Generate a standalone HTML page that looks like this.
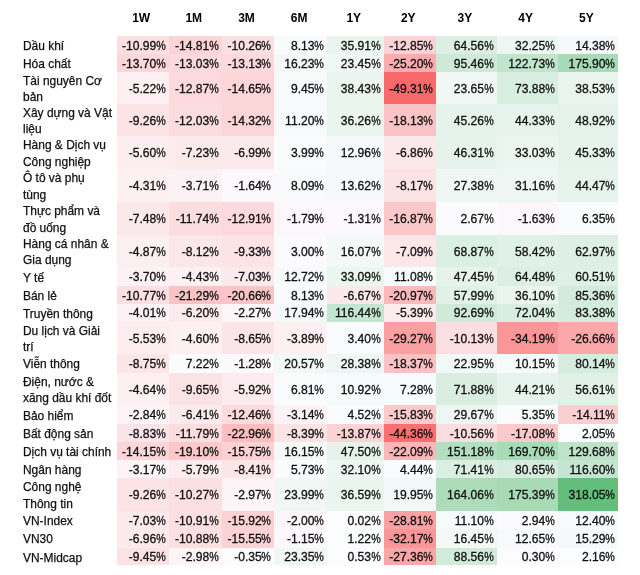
<!DOCTYPE html>
<html lang="vi"><head><meta charset="utf-8"><title>Heatmap</title>
<style>
html,body{margin:0;padding:0;background:#fff;}
body{width:640px;height:575px;position:relative;overflow:hidden;font-family:"Liberation Sans",Arial,sans-serif;color:#111;}
.h{position:absolute;top:8.7px;height:18px;line-height:18px;font-weight:bold;font-size:12px;text-align:center;color:#000;margin-left:-1.5px;}
.c{position:absolute;box-sizing:border-box;text-align:right;font-size:12.1px;white-space:nowrap;-webkit-text-stroke:0.3px #111;}
.c span{position:relative;top:1px;}
.c i{font-style:normal;display:inline-block;transform:scaleX(.885);transform-origin:100% 50%;margin-left:-1.25px;}
.l{position:absolute;left:23px;margin-top:1.2px;font-size:11.95px;line-height:16.3px;-webkit-text-stroke:0.25px #111;white-space:nowrap;display:flex;flex-direction:column;justify-content:center;}
</style></head><body>
<div class="h" style="left:116.5px;width:52.25px">1W</div>
<div class="h" style="left:168.75px;width:53.00px">1M</div>
<div class="h" style="left:221.75px;width:52.50px">3M</div>
<div class="h" style="left:274.25px;width:52.75px">6M</div>
<div class="h" style="left:327px;width:56.50px">1Y</div>
<div class="h" style="left:383.5px;width:52.50px">2Y</div>
<div class="h" style="left:436px;width:60.60px">3Y</div>
<div class="h" style="left:496.6px;width:61.20px">4Y</div>
<div class="h" style="left:557.8px;width:60.30px">5Y</div>
<div class="l" style="top:35.5px;height:18.25px"><span>Dầu khí</span></div>
<div class="c" style="left:116.5px;top:35.5px;width:53.25px;height:19.25px;line-height:18.25px;padding-right:4.0px;background:rgb(251, 223, 225)"><span>-10.99<i>%</i></span></div><div class="c" style="left:168.75px;top:35.5px;width:54.00px;height:19.25px;line-height:18.25px;padding-right:4.0px;background:rgb(251, 212, 215)"><span>-14.81<i>%</i></span></div><div class="c" style="left:221.75px;top:35.5px;width:53.50px;height:19.25px;line-height:18.25px;padding-right:4.0px;background:rgb(251, 224, 227)"><span>-10.26<i>%</i></span></div><div class="c" style="left:274.25px;top:35.5px;width:53.75px;height:19.25px;line-height:18.25px;padding-right:4.0px;background:rgb(248, 250, 252)"><span>8.13<i>%</i></span></div><div class="c" style="left:327px;top:35.5px;width:57.50px;height:19.25px;line-height:18.25px;padding-right:4.0px;background:rgb(235, 245, 240)"><span>35.91<i>%</i></span></div><div class="c" style="left:383.5px;top:35.5px;width:53.50px;height:19.25px;line-height:18.25px;padding-right:4.0px;background:rgb(251, 211, 214)"><span>-12.85<i>%</i></span></div><div class="c" style="left:436px;top:35.5px;width:61.60px;height:19.25px;line-height:18.25px;padding-right:4.0px;background:rgb(221, 239, 228)"><span>64.56<i>%</i></span></div><div class="c" style="left:496.6px;top:35.5px;width:62.20px;height:19.25px;line-height:18.25px;padding-right:4.0px;background:rgb(236, 246, 242)"><span>32.25<i>%</i></span></div><div class="c" style="left:557.8px;top:35.5px;width:60.30px;height:19.25px;line-height:18.25px;padding-right:3.0px;background:rgb(245, 249, 249)"><span>14.38<i>%</i></span></div>
<div class="l" style="top:53.75px;height:18.00px"><span>Hóa chất</span></div>
<div class="c" style="left:116.5px;top:53.75px;width:53.25px;height:19.00px;line-height:18.00px;padding-right:4.0px;background:rgb(251, 215, 218)"><span>-13.70<i>%</i></span></div><div class="c" style="left:168.75px;top:53.75px;width:54.00px;height:19.00px;line-height:18.00px;padding-right:4.0px;background:rgb(251, 217, 220)"><span>-13.03<i>%</i></span></div><div class="c" style="left:221.75px;top:53.75px;width:53.50px;height:19.00px;line-height:18.00px;padding-right:4.0px;background:rgb(251, 217, 220)"><span>-13.13<i>%</i></span></div><div class="c" style="left:274.25px;top:53.75px;width:53.75px;height:19.00px;line-height:18.00px;padding-right:4.0px;background:rgb(244, 249, 248)"><span>16.23<i>%</i></span></div><div class="c" style="left:327px;top:53.75px;width:57.50px;height:19.00px;line-height:18.00px;padding-right:4.0px;background:rgb(241, 247, 245)"><span>23.45<i>%</i></span></div><div class="c" style="left:383.5px;top:53.75px;width:53.50px;height:19.00px;line-height:18.00px;padding-right:4.0px;background:rgb(250, 172, 175)"><span>-25.20<i>%</i></span></div><div class="c" style="left:436px;top:53.75px;width:61.60px;height:19.00px;line-height:18.00px;padding-right:4.0px;background:rgb(206, 233, 215)"><span>95.46<i>%</i></span></div><div class="c" style="left:496.6px;top:53.75px;width:62.20px;height:19.00px;line-height:18.00px;padding-right:4.0px;background:rgb(193, 228, 204)"><span>122.73<i>%</i></span></div><div class="c" style="left:557.8px;top:53.75px;width:60.30px;height:19.00px;line-height:18.00px;padding-right:3.0px;background:rgb(167, 218, 182)"><span>175.90<i>%</i></span></div>
<div class="l" style="top:71.75px;height:32.50px"><span>Tài nguyên Cơ</span><span>bản</span></div>
<div class="c" style="left:116.5px;top:71.75px;width:53.25px;height:33.50px;line-height:32.50px;padding-right:4.0px;background:rgb(252, 238, 241)"><span>-5.22<i>%</i></span></div><div class="c" style="left:168.75px;top:71.75px;width:54.00px;height:33.50px;line-height:32.50px;padding-right:4.0px;background:rgb(251, 217, 220)"><span>-12.87<i>%</i></span></div><div class="c" style="left:221.75px;top:71.75px;width:53.50px;height:33.50px;line-height:32.50px;padding-right:4.0px;background:rgb(251, 213, 215)"><span>-14.65<i>%</i></span></div><div class="c" style="left:274.25px;top:71.75px;width:53.75px;height:33.50px;line-height:32.50px;padding-right:4.0px;background:rgb(247, 250, 251)"><span>9.45<i>%</i></span></div><div class="c" style="left:327px;top:71.75px;width:57.50px;height:33.50px;line-height:32.50px;padding-right:4.0px;background:rgb(234, 245, 239)"><span>38.43<i>%</i></span></div><div class="c" style="left:383.5px;top:71.75px;width:53.50px;height:33.50px;line-height:32.50px;padding-right:4.0px;background:rgb(248, 105, 107)"><span>-49.31<i>%</i></span></div><div class="c" style="left:436px;top:71.75px;width:61.60px;height:33.50px;line-height:32.50px;padding-right:4.0px;background:rgb(241, 247, 245)"><span>23.65<i>%</i></span></div><div class="c" style="left:496.6px;top:71.75px;width:62.20px;height:33.50px;line-height:32.50px;padding-right:4.0px;background:rgb(216, 238, 224)"><span>73.88<i>%</i></span></div><div class="c" style="left:557.8px;top:71.75px;width:60.30px;height:33.50px;line-height:32.50px;padding-right:3.0px;background:rgb(233, 244, 239)"><span>38.53<i>%</i></span></div>
<div class="l" style="top:104.25px;height:32.00px"><span>Xây dựng và Vật</span><span>liệu</span></div>
<div class="c" style="left:116.5px;top:104.25px;width:53.25px;height:33.00px;line-height:32.00px;padding-right:4.0px;background:rgb(251, 227, 230)"><span>-9.26<i>%</i></span></div><div class="c" style="left:168.75px;top:104.25px;width:54.00px;height:33.00px;line-height:32.00px;padding-right:4.0px;background:rgb(251, 220, 223)"><span>-12.03<i>%</i></span></div><div class="c" style="left:221.75px;top:104.25px;width:53.50px;height:33.00px;line-height:32.00px;padding-right:4.0px;background:rgb(251, 214, 216)"><span>-14.32<i>%</i></span></div><div class="c" style="left:274.25px;top:104.25px;width:53.75px;height:33.00px;line-height:32.00px;padding-right:4.0px;background:rgb(247, 250, 250)"><span>11.20<i>%</i></span></div><div class="c" style="left:327px;top:104.25px;width:57.50px;height:33.00px;line-height:32.00px;padding-right:4.0px;background:rgb(235, 245, 240)"><span>36.26<i>%</i></span></div><div class="c" style="left:383.5px;top:104.25px;width:53.50px;height:33.00px;line-height:32.00px;padding-right:4.0px;background:rgb(250, 195, 197)"><span>-18.13<i>%</i></span></div><div class="c" style="left:436px;top:104.25px;width:61.60px;height:33.00px;line-height:32.00px;padding-right:4.0px;background:rgb(230, 243, 236)"><span>45.26<i>%</i></span></div><div class="c" style="left:496.6px;top:104.25px;width:62.20px;height:33.00px;line-height:32.00px;padding-right:4.0px;background:rgb(231, 243, 237)"><span>44.33<i>%</i></span></div><div class="c" style="left:557.8px;top:104.25px;width:60.30px;height:33.00px;line-height:32.00px;padding-right:3.0px;background:rgb(228, 242, 235)"><span>48.92<i>%</i></span></div>
<div class="l" style="top:136.25px;height:32.50px"><span>Hàng &amp; Dịch vụ</span><span>Công nghiệp</span></div>
<div class="c" style="left:116.5px;top:136.25px;width:53.25px;height:33.50px;line-height:32.50px;padding-right:4.0px;background:rgb(252, 237, 240)"><span>-5.60<i>%</i></span></div><div class="c" style="left:168.75px;top:136.25px;width:54.00px;height:33.50px;line-height:32.50px;padding-right:4.0px;background:rgb(251, 233, 235)"><span>-7.23<i>%</i></span></div><div class="c" style="left:221.75px;top:136.25px;width:53.50px;height:33.50px;line-height:32.50px;padding-right:4.0px;background:rgb(251, 233, 236)"><span>-6.99<i>%</i></span></div><div class="c" style="left:274.25px;top:136.25px;width:53.75px;height:33.50px;line-height:32.50px;padding-right:4.0px;background:rgb(250, 251, 253)"><span>3.99<i>%</i></span></div><div class="c" style="left:327px;top:136.25px;width:57.50px;height:33.50px;line-height:32.50px;padding-right:4.0px;background:rgb(246, 249, 250)"><span>12.96<i>%</i></span></div><div class="c" style="left:383.5px;top:136.25px;width:53.50px;height:33.50px;line-height:32.50px;padding-right:4.0px;background:rgb(251, 230, 233)"><span>-6.86<i>%</i></span></div><div class="c" style="left:436px;top:136.25px;width:61.60px;height:33.50px;line-height:32.50px;padding-right:4.0px;background:rgb(230, 243, 236)"><span>46.31<i>%</i></span></div><div class="c" style="left:496.6px;top:136.25px;width:62.20px;height:33.50px;line-height:32.50px;padding-right:4.0px;background:rgb(236, 246, 241)"><span>33.03<i>%</i></span></div><div class="c" style="left:557.8px;top:136.25px;width:60.30px;height:33.50px;line-height:32.50px;padding-right:3.0px;background:rgb(230, 243, 236)"><span>45.33<i>%</i></span></div>
<div class="l" style="top:168.75px;height:33.25px"><span>Ô tô và phụ</span><span>tùng</span></div>
<div class="c" style="left:116.5px;top:168.75px;width:53.25px;height:34.25px;line-height:33.25px;padding-right:4.0px;background:rgb(252, 240, 243)"><span>-4.31<i>%</i></span></div><div class="c" style="left:168.75px;top:168.75px;width:54.00px;height:34.25px;line-height:33.25px;padding-right:4.0px;background:rgb(252, 242, 245)"><span>-3.71<i>%</i></span></div><div class="c" style="left:221.75px;top:168.75px;width:53.50px;height:34.25px;line-height:33.25px;padding-right:4.0px;background:rgb(252, 248, 251)"><span>-1.64<i>%</i></span></div><div class="c" style="left:274.25px;top:168.75px;width:53.75px;height:34.25px;line-height:33.25px;padding-right:4.0px;background:rgb(248, 250, 252)"><span>8.09<i>%</i></span></div><div class="c" style="left:327px;top:168.75px;width:57.50px;height:34.25px;line-height:33.25px;padding-right:4.0px;background:rgb(245, 249, 249)"><span>13.62<i>%</i></span></div><div class="c" style="left:383.5px;top:168.75px;width:53.50px;height:34.25px;line-height:33.25px;padding-right:4.0px;background:rgb(251, 226, 229)"><span>-8.17<i>%</i></span></div><div class="c" style="left:436px;top:168.75px;width:61.60px;height:34.25px;line-height:33.25px;padding-right:4.0px;background:rgb(239, 247, 244)"><span>27.38<i>%</i></span></div><div class="c" style="left:496.6px;top:168.75px;width:62.20px;height:34.25px;line-height:33.25px;padding-right:4.0px;background:rgb(237, 246, 242)"><span>31.16<i>%</i></span></div><div class="c" style="left:557.8px;top:168.75px;width:60.30px;height:34.25px;line-height:33.25px;padding-right:3.0px;background:rgb(231, 243, 237)"><span>44.47<i>%</i></span></div>
<div class="l" style="top:202px;height:32.80px"><span>Thực phẩm và</span><span>đồ uống</span></div>
<div class="c" style="left:116.5px;top:202px;width:53.25px;height:33.80px;line-height:32.80px;padding-right:4.0px;background:rgb(251, 232, 235)"><span>-7.48<i>%</i></span></div><div class="c" style="left:168.75px;top:202px;width:54.00px;height:33.80px;line-height:32.80px;padding-right:4.0px;background:rgb(251, 221, 223)"><span>-11.74<i>%</i></span></div><div class="c" style="left:221.75px;top:202px;width:53.50px;height:33.80px;line-height:32.80px;padding-right:4.0px;background:rgb(251, 217, 220)"><span>-12.91<i>%</i></span></div><div class="c" style="left:274.25px;top:202px;width:53.75px;height:33.80px;line-height:32.80px;padding-right:4.0px;background:rgb(252, 247, 250)"><span>-1.79<i>%</i></span></div><div class="c" style="left:327px;top:202px;width:57.50px;height:33.80px;line-height:32.80px;padding-right:4.0px;background:rgb(252, 248, 251)"><span>-1.31<i>%</i></span></div><div class="c" style="left:383.5px;top:202px;width:53.50px;height:33.80px;line-height:32.80px;padding-right:4.0px;background:rgb(251, 199, 201)"><span>-16.87<i>%</i></span></div><div class="c" style="left:436px;top:202px;width:61.60px;height:33.80px;line-height:32.80px;padding-right:4.0px;background:rgb(251, 251, 254)"><span>2.67<i>%</i></span></div><div class="c" style="left:496.6px;top:202px;width:62.20px;height:33.80px;line-height:32.80px;padding-right:4.0px;background:rgb(252, 247, 250)"><span>-1.63<i>%</i></span></div><div class="c" style="left:557.8px;top:202px;width:60.30px;height:33.80px;line-height:32.80px;padding-right:3.0px;background:rgb(249, 251, 252)"><span>6.35<i>%</i></span></div>
<div class="l" style="top:234.8px;height:32.60px"><span>Hàng cá nhân &amp;</span><span>Gia dụng</span></div>
<div class="c" style="left:116.5px;top:234.8px;width:53.25px;height:33.60px;line-height:32.60px;padding-right:4.0px;background:rgb(252, 239, 242)"><span>-4.87<i>%</i></span></div><div class="c" style="left:168.75px;top:234.8px;width:54.00px;height:33.60px;line-height:32.60px;padding-right:4.0px;background:rgb(251, 230, 233)"><span>-8.12<i>%</i></span></div><div class="c" style="left:221.75px;top:234.8px;width:53.50px;height:33.60px;line-height:32.60px;padding-right:4.0px;background:rgb(251, 227, 230)"><span>-9.33<i>%</i></span></div><div class="c" style="left:274.25px;top:234.8px;width:53.75px;height:33.60px;line-height:32.60px;padding-right:4.0px;background:rgb(251, 251, 254)"><span>3.00<i>%</i></span></div><div class="c" style="left:327px;top:234.8px;width:57.50px;height:33.60px;line-height:32.60px;padding-right:4.0px;background:rgb(244, 249, 248)"><span>16.07<i>%</i></span></div><div class="c" style="left:383.5px;top:234.8px;width:53.50px;height:33.60px;line-height:32.60px;padding-right:4.0px;background:rgb(251, 230, 232)"><span>-7.09<i>%</i></span></div><div class="c" style="left:436px;top:234.8px;width:61.60px;height:33.60px;line-height:32.60px;padding-right:4.0px;background:rgb(219, 239, 226)"><span>68.87<i>%</i></span></div><div class="c" style="left:496.6px;top:234.8px;width:62.20px;height:33.60px;line-height:32.60px;padding-right:4.0px;background:rgb(224, 241, 231)"><span>58.42<i>%</i></span></div><div class="c" style="left:557.8px;top:234.8px;width:60.30px;height:33.60px;line-height:32.60px;padding-right:3.0px;background:rgb(222, 240, 229)"><span>62.97<i>%</i></span></div>
<div class="l" style="top:267.4px;height:18.35px"><span>Y tế</span></div>
<div class="c" style="left:116.5px;top:267.4px;width:53.25px;height:19.35px;line-height:18.35px;padding-right:4.0px;background:rgb(252, 242, 245)"><span>-3.70<i>%</i></span></div><div class="c" style="left:168.75px;top:267.4px;width:54.00px;height:19.35px;line-height:18.35px;padding-right:4.0px;background:rgb(252, 240, 243)"><span>-4.43<i>%</i></span></div><div class="c" style="left:221.75px;top:267.4px;width:53.50px;height:19.35px;line-height:18.35px;padding-right:4.0px;background:rgb(251, 233, 236)"><span>-7.03<i>%</i></span></div><div class="c" style="left:274.25px;top:267.4px;width:53.75px;height:19.35px;line-height:18.35px;padding-right:4.0px;background:rgb(246, 250, 250)"><span>12.72<i>%</i></span></div><div class="c" style="left:327px;top:267.4px;width:57.50px;height:19.35px;line-height:18.35px;padding-right:4.0px;background:rgb(236, 246, 241)"><span>33.09<i>%</i></span></div><div class="c" style="left:383.5px;top:267.4px;width:53.50px;height:19.35px;line-height:18.35px;padding-right:4.0px;background:rgb(247, 250, 250)"><span>11.08<i>%</i></span></div><div class="c" style="left:436px;top:267.4px;width:61.60px;height:19.35px;line-height:18.35px;padding-right:4.0px;background:rgb(229, 243, 235)"><span>47.45<i>%</i></span></div><div class="c" style="left:496.6px;top:267.4px;width:62.20px;height:19.35px;line-height:18.35px;padding-right:4.0px;background:rgb(221, 239, 228)"><span>64.48<i>%</i></span></div><div class="c" style="left:557.8px;top:267.4px;width:60.30px;height:19.35px;line-height:18.35px;padding-right:3.0px;background:rgb(223, 240, 230)"><span>60.51<i>%</i></span></div>
<div class="l" style="top:285.75px;height:18.50px"><span>Bán lẻ</span></div>
<div class="c" style="left:116.5px;top:285.75px;width:53.25px;height:19.50px;line-height:18.50px;padding-right:4.0px;background:rgb(251, 223, 226)"><span>-10.77<i>%</i></span></div><div class="c" style="left:168.75px;top:285.75px;width:54.00px;height:19.50px;line-height:18.50px;padding-right:4.0px;background:rgb(250, 195, 197)"><span>-21.29<i>%</i></span></div><div class="c" style="left:221.75px;top:285.75px;width:53.50px;height:19.50px;line-height:18.50px;padding-right:4.0px;background:rgb(250, 197, 199)"><span>-20.66<i>%</i></span></div><div class="c" style="left:274.25px;top:285.75px;width:53.75px;height:19.50px;line-height:18.50px;padding-right:4.0px;background:rgb(248, 250, 252)"><span>8.13<i>%</i></span></div><div class="c" style="left:327px;top:285.75px;width:57.50px;height:19.50px;line-height:18.50px;padding-right:4.0px;background:rgb(251, 232, 235)"><span>-6.67<i>%</i></span></div><div class="c" style="left:383.5px;top:285.75px;width:53.50px;height:19.50px;line-height:18.50px;padding-right:4.0px;background:rgb(250, 186, 188)"><span>-20.97<i>%</i></span></div><div class="c" style="left:436px;top:285.75px;width:61.60px;height:19.50px;line-height:18.50px;padding-right:4.0px;background:rgb(224, 241, 231)"><span>57.99<i>%</i></span></div><div class="c" style="left:496.6px;top:285.75px;width:62.20px;height:19.50px;line-height:18.50px;padding-right:4.0px;background:rgb(235, 245, 240)"><span>36.10<i>%</i></span></div><div class="c" style="left:557.8px;top:285.75px;width:60.30px;height:19.50px;line-height:18.50px;padding-right:3.0px;background:rgb(211, 235, 220)"><span>85.36<i>%</i></span></div>
<div class="l" style="top:304.25px;height:17.55px"><span>Truyền thông</span></div>
<div class="c" style="left:116.5px;top:304.25px;width:53.25px;height:18.55px;line-height:17.55px;padding-right:4.0px;background:rgb(252, 241, 244)"><span>-4.01<i>%</i></span></div><div class="c" style="left:168.75px;top:304.25px;width:54.00px;height:18.55px;line-height:17.55px;padding-right:4.0px;background:rgb(252, 235, 238)"><span>-6.20<i>%</i></span></div><div class="c" style="left:221.75px;top:304.25px;width:53.50px;height:18.55px;line-height:17.55px;padding-right:4.0px;background:rgb(252, 246, 249)"><span>-2.27<i>%</i></span></div><div class="c" style="left:274.25px;top:304.25px;width:53.75px;height:18.55px;line-height:17.55px;padding-right:4.0px;background:rgb(243, 249, 248)"><span>17.94<i>%</i></span></div><div class="c" style="left:327px;top:304.25px;width:57.50px;height:18.55px;line-height:17.55px;padding-right:4.0px;background:rgb(196, 229, 207)"><span>116.44<i>%</i></span></div><div class="c" style="left:383.5px;top:304.25px;width:53.50px;height:18.55px;line-height:17.55px;padding-right:4.0px;background:rgb(252, 235, 238)"><span>-5.39<i>%</i></span></div><div class="c" style="left:436px;top:304.25px;width:61.60px;height:18.55px;line-height:17.55px;padding-right:4.0px;background:rgb(207, 234, 217)"><span>92.69<i>%</i></span></div><div class="c" style="left:496.6px;top:304.25px;width:62.20px;height:18.55px;line-height:17.55px;padding-right:4.0px;background:rgb(217, 238, 225)"><span>72.04<i>%</i></span></div><div class="c" style="left:557.8px;top:304.25px;width:60.30px;height:18.55px;line-height:17.55px;padding-right:3.0px;background:rgb(212, 236, 220)"><span>83.38<i>%</i></span></div>
<div class="l" style="top:321.8px;height:32.60px"><span>Du lịch và Giải</span><span>trí</span></div>
<div class="c" style="left:116.5px;top:321.8px;width:53.25px;height:33.60px;line-height:32.60px;padding-right:4.0px;background:rgb(252, 237, 240)"><span>-5.53<i>%</i></span></div><div class="c" style="left:168.75px;top:321.8px;width:54.00px;height:33.60px;line-height:32.60px;padding-right:4.0px;background:rgb(252, 240, 243)"><span>-4.60<i>%</i></span></div><div class="c" style="left:221.75px;top:321.8px;width:53.50px;height:33.60px;line-height:32.60px;padding-right:4.0px;background:rgb(251, 229, 232)"><span>-8.65<i>%</i></span></div><div class="c" style="left:274.25px;top:321.8px;width:53.75px;height:33.60px;line-height:32.60px;padding-right:4.0px;background:rgb(252, 240, 243)"><span>-3.89<i>%</i></span></div><div class="c" style="left:327px;top:321.8px;width:57.50px;height:33.60px;line-height:32.60px;padding-right:4.0px;background:rgb(250, 251, 254)"><span>3.40<i>%</i></span></div><div class="c" style="left:383.5px;top:321.8px;width:53.50px;height:33.60px;line-height:32.60px;padding-right:4.0px;background:rgb(249, 160, 162)"><span>-29.27<i>%</i></span></div><div class="c" style="left:436px;top:321.8px;width:61.60px;height:33.60px;line-height:32.60px;padding-right:4.0px;background:rgb(251, 222, 225)"><span>-10.13<i>%</i></span></div><div class="c" style="left:496.6px;top:321.8px;width:62.20px;height:33.60px;line-height:32.60px;padding-right:4.0px;background:rgb(249, 150, 152)"><span>-34.19<i>%</i></span></div><div class="c" style="left:557.8px;top:321.8px;width:60.30px;height:33.60px;line-height:32.60px;padding-right:3.0px;background:rgb(250, 168, 170)"><span>-26.66<i>%</i></span></div>
<div class="l" style="top:354.4px;height:18.10px"><span>Viễn thông</span></div>
<div class="c" style="left:116.5px;top:354.4px;width:53.25px;height:19.10px;line-height:18.10px;padding-right:4.0px;background:rgb(251, 229, 231)"><span>-8.75<i>%</i></span></div><div class="c" style="left:168.75px;top:354.4px;width:54.00px;height:19.10px;line-height:18.10px;padding-right:4.0px;background:rgb(249, 251, 252)"><span>7.22<i>%</i></span></div><div class="c" style="left:221.75px;top:354.4px;width:53.50px;height:19.10px;line-height:18.10px;padding-right:4.0px;background:rgb(252, 249, 252)"><span>-1.28<i>%</i></span></div><div class="c" style="left:274.25px;top:354.4px;width:53.75px;height:19.10px;line-height:18.10px;padding-right:4.0px;background:rgb(242, 248, 246)"><span>20.57<i>%</i></span></div><div class="c" style="left:327px;top:354.4px;width:57.50px;height:19.10px;line-height:18.10px;padding-right:4.0px;background:rgb(238, 246, 243)"><span>28.38<i>%</i></span></div><div class="c" style="left:383.5px;top:354.4px;width:53.50px;height:19.10px;line-height:18.10px;padding-right:4.0px;background:rgb(250, 194, 197)"><span>-18.37<i>%</i></span></div><div class="c" style="left:436px;top:354.4px;width:61.60px;height:19.10px;line-height:18.10px;padding-right:4.0px;background:rgb(241, 248, 245)"><span>22.95<i>%</i></span></div><div class="c" style="left:496.6px;top:354.4px;width:62.20px;height:19.10px;line-height:18.10px;padding-right:4.0px;background:rgb(247, 250, 251)"><span>10.15<i>%</i></span></div><div class="c" style="left:557.8px;top:354.4px;width:60.30px;height:19.10px;line-height:18.10px;padding-right:3.0px;background:rgb(213, 236, 222)"><span>80.14<i>%</i></span></div>
<div class="l" style="top:372.5px;height:32.90px"><span>Điện, nước &amp;</span><span>xăng dầu khí đốt</span></div>
<div class="c" style="left:116.5px;top:372.5px;width:53.25px;height:33.90px;line-height:32.90px;padding-right:4.0px;background:rgb(252, 240, 242)"><span>-4.64<i>%</i></span></div><div class="c" style="left:168.75px;top:372.5px;width:54.00px;height:33.90px;line-height:32.90px;padding-right:4.0px;background:rgb(251, 226, 229)"><span>-9.65<i>%</i></span></div><div class="c" style="left:221.75px;top:372.5px;width:53.50px;height:33.90px;line-height:32.90px;padding-right:4.0px;background:rgb(252, 236, 239)"><span>-5.92<i>%</i></span></div><div class="c" style="left:274.25px;top:372.5px;width:53.75px;height:33.90px;line-height:32.90px;padding-right:4.0px;background:rgb(249, 251, 252)"><span>6.81<i>%</i></span></div><div class="c" style="left:327px;top:372.5px;width:57.50px;height:33.90px;line-height:32.90px;padding-right:4.0px;background:rgb(247, 250, 250)"><span>10.92<i>%</i></span></div><div class="c" style="left:383.5px;top:372.5px;width:53.50px;height:33.90px;line-height:32.90px;padding-right:4.0px;background:rgb(248, 251, 252)"><span>7.28<i>%</i></span></div><div class="c" style="left:436px;top:372.5px;width:61.60px;height:33.90px;line-height:32.90px;padding-right:4.0px;background:rgb(217, 238, 225)"><span>71.88<i>%</i></span></div><div class="c" style="left:496.6px;top:372.5px;width:62.20px;height:33.90px;line-height:32.90px;padding-right:4.0px;background:rgb(231, 243, 237)"><span>44.21<i>%</i></span></div><div class="c" style="left:557.8px;top:372.5px;width:60.30px;height:33.90px;line-height:32.90px;padding-right:3.0px;background:rgb(225, 241, 232)"><span>56.61<i>%</i></span></div>
<div class="l" style="top:405.4px;height:18.20px"><span>Bảo hiểm</span></div>
<div class="c" style="left:116.5px;top:405.4px;width:53.25px;height:19.20px;line-height:18.20px;padding-right:4.0px;background:rgb(252, 244, 247)"><span>-2.84<i>%</i></span></div><div class="c" style="left:168.75px;top:405.4px;width:54.00px;height:19.20px;line-height:18.20px;padding-right:4.0px;background:rgb(252, 235, 238)"><span>-6.41<i>%</i></span></div><div class="c" style="left:221.75px;top:405.4px;width:53.50px;height:19.20px;line-height:18.20px;padding-right:4.0px;background:rgb(251, 219, 221)"><span>-12.46<i>%</i></span></div><div class="c" style="left:274.25px;top:405.4px;width:53.75px;height:19.20px;line-height:18.20px;padding-right:4.0px;background:rgb(252, 243, 246)"><span>-3.14<i>%</i></span></div><div class="c" style="left:327px;top:405.4px;width:57.50px;height:19.20px;line-height:18.20px;padding-right:4.0px;background:rgb(250, 251, 253)"><span>4.52<i>%</i></span></div><div class="c" style="left:383.5px;top:405.4px;width:53.50px;height:19.20px;line-height:18.20px;padding-right:4.0px;background:rgb(251, 202, 205)"><span>-15.83<i>%</i></span></div><div class="c" style="left:436px;top:405.4px;width:61.60px;height:19.20px;line-height:18.20px;padding-right:4.0px;background:rgb(238, 246, 243)"><span>29.67<i>%</i></span></div><div class="c" style="left:496.6px;top:405.4px;width:62.20px;height:19.20px;line-height:18.20px;padding-right:4.0px;background:rgb(249, 251, 253)"><span>5.35<i>%</i></span></div><div class="c" style="left:557.8px;top:405.4px;width:60.30px;height:19.20px;line-height:18.20px;padding-right:3.0px;background:rgb(251, 207, 210)"><span>-14.11<i>%</i></span></div>
<div class="l" style="top:423.6px;height:18.40px"><span>Bất động sản</span></div>
<div class="c" style="left:116.5px;top:423.6px;width:53.25px;height:19.40px;line-height:18.40px;padding-right:4.0px;background:rgb(251, 228, 231)"><span>-8.83<i>%</i></span></div><div class="c" style="left:168.75px;top:423.6px;width:54.00px;height:19.40px;line-height:18.40px;padding-right:4.0px;background:rgb(251, 220, 223)"><span>-11.79<i>%</i></span></div><div class="c" style="left:221.75px;top:423.6px;width:53.50px;height:19.40px;line-height:18.40px;padding-right:4.0px;background:rgb(250, 190, 193)"><span>-22.96<i>%</i></span></div><div class="c" style="left:274.25px;top:423.6px;width:53.75px;height:19.40px;line-height:18.40px;padding-right:4.0px;background:rgb(251, 227, 230)"><span>-8.39<i>%</i></span></div><div class="c" style="left:327px;top:423.6px;width:57.50px;height:19.40px;line-height:18.40px;padding-right:4.0px;background:rgb(251, 211, 213)"><span>-13.87<i>%</i></span></div><div class="c" style="left:383.5px;top:423.6px;width:53.50px;height:19.40px;line-height:18.40px;padding-right:4.0px;background:rgb(248, 112, 114)"><span>-44.36<i>%</i></span></div><div class="c" style="left:436px;top:423.6px;width:61.60px;height:19.40px;line-height:18.40px;padding-right:4.0px;background:rgb(251, 221, 223)"><span>-10.56<i>%</i></span></div><div class="c" style="left:496.6px;top:423.6px;width:62.20px;height:19.40px;line-height:18.40px;padding-right:4.0px;background:rgb(251, 201, 204)"><span>-17.08<i>%</i></span></div><div class="c" style="left:557.8px;top:423.6px;width:60.30px;height:19.40px;line-height:18.40px;padding-right:3.0px;background:rgb(251, 252, 254)"><span>2.05<i>%</i></span></div>
<div class="l" style="top:442px;height:18.25px"><span>Dịch vụ tài chính</span></div>
<div class="c" style="left:116.5px;top:442px;width:53.25px;height:19.25px;line-height:18.25px;padding-right:4.0px;background:rgb(251, 214, 217)"><span>-14.15<i>%</i></span></div><div class="c" style="left:168.75px;top:442px;width:54.00px;height:19.25px;line-height:18.25px;padding-right:4.0px;background:rgb(251, 201, 203)"><span>-19.10<i>%</i></span></div><div class="c" style="left:221.75px;top:442px;width:53.50px;height:19.25px;line-height:18.25px;padding-right:4.0px;background:rgb(251, 210, 212)"><span>-15.75<i>%</i></span></div><div class="c" style="left:274.25px;top:442px;width:53.75px;height:19.25px;line-height:18.25px;padding-right:4.0px;background:rgb(244, 249, 248)"><span>16.15<i>%</i></span></div><div class="c" style="left:327px;top:442px;width:57.50px;height:19.25px;line-height:18.25px;padding-right:4.0px;background:rgb(229, 243, 235)"><span>47.50<i>%</i></span></div><div class="c" style="left:383.5px;top:442px;width:53.50px;height:19.25px;line-height:18.25px;padding-right:4.0px;background:rgb(250, 182, 185)"><span>-22.09<i>%</i></span></div><div class="c" style="left:436px;top:442px;width:61.60px;height:19.25px;line-height:18.25px;padding-right:4.0px;background:rgb(179, 223, 192)"><span>151.18<i>%</i></span></div><div class="c" style="left:496.6px;top:442px;width:62.20px;height:19.25px;line-height:18.25px;padding-right:4.0px;background:rgb(170, 219, 185)"><span>169.70<i>%</i></span></div><div class="c" style="left:557.8px;top:442px;width:60.30px;height:19.25px;line-height:18.25px;padding-right:3.0px;background:rgb(190, 227, 201)"><span>129.68<i>%</i></span></div>
<div class="l" style="top:460.25px;height:18.05px"><span>Ngân hàng</span></div>
<div class="c" style="left:116.5px;top:460.25px;width:53.25px;height:19.05px;line-height:18.05px;padding-right:4.0px;background:rgb(252, 243, 246)"><span>-3.17<i>%</i></span></div><div class="c" style="left:168.75px;top:460.25px;width:54.00px;height:19.05px;line-height:18.05px;padding-right:4.0px;background:rgb(252, 236, 239)"><span>-5.79<i>%</i></span></div><div class="c" style="left:221.75px;top:460.25px;width:53.50px;height:19.05px;line-height:18.05px;padding-right:4.0px;background:rgb(251, 229, 232)"><span>-8.41<i>%</i></span></div><div class="c" style="left:274.25px;top:460.25px;width:53.75px;height:19.05px;line-height:18.05px;padding-right:4.0px;background:rgb(249, 251, 253)"><span>5.73<i>%</i></span></div><div class="c" style="left:327px;top:460.25px;width:57.50px;height:19.05px;line-height:18.05px;padding-right:4.0px;background:rgb(237, 246, 242)"><span>32.10<i>%</i></span></div><div class="c" style="left:383.5px;top:460.25px;width:53.50px;height:19.05px;line-height:18.05px;padding-right:4.0px;background:rgb(250, 251, 253)"><span>4.44<i>%</i></span></div><div class="c" style="left:436px;top:460.25px;width:61.60px;height:19.05px;line-height:18.05px;padding-right:4.0px;background:rgb(218, 238, 225)"><span>71.41<i>%</i></span></div><div class="c" style="left:496.6px;top:460.25px;width:62.20px;height:19.05px;line-height:18.05px;padding-right:4.0px;background:rgb(213, 236, 222)"><span>80.65<i>%</i></span></div><div class="c" style="left:557.8px;top:460.25px;width:60.30px;height:19.05px;line-height:18.05px;padding-right:3.0px;background:rgb(196, 229, 207)"><span>116.60<i>%</i></span></div>
<div class="l" style="top:478.3px;height:32.50px"><span>Công nghệ</span><span>Thông tin</span></div>
<div class="c" style="left:116.5px;top:478.3px;width:53.25px;height:33.50px;line-height:32.50px;padding-right:4.0px;background:rgb(251, 227, 230)"><span>-9.26<i>%</i></span></div><div class="c" style="left:168.75px;top:478.3px;width:54.00px;height:33.50px;line-height:32.50px;padding-right:4.0px;background:rgb(251, 224, 227)"><span>-10.27<i>%</i></span></div><div class="c" style="left:221.75px;top:478.3px;width:53.50px;height:33.50px;line-height:32.50px;padding-right:4.0px;background:rgb(252, 244, 247)"><span>-2.97<i>%</i></span></div><div class="c" style="left:274.25px;top:478.3px;width:53.75px;height:33.50px;line-height:32.50px;padding-right:4.0px;background:rgb(240, 247, 245)"><span>23.99<i>%</i></span></div><div class="c" style="left:327px;top:478.3px;width:57.50px;height:33.50px;line-height:32.50px;padding-right:4.0px;background:rgb(234, 245, 240)"><span>36.59<i>%</i></span></div><div class="c" style="left:383.5px;top:478.3px;width:53.50px;height:33.50px;line-height:32.50px;padding-right:4.0px;background:rgb(242, 248, 247)"><span>19.95<i>%</i></span></div><div class="c" style="left:436px;top:478.3px;width:61.60px;height:33.50px;line-height:32.50px;padding-right:4.0px;background:rgb(173, 220, 187)"><span>164.06<i>%</i></span></div><div class="c" style="left:496.6px;top:478.3px;width:62.20px;height:33.50px;line-height:32.50px;padding-right:4.0px;background:rgb(168, 218, 182)"><span>175.39<i>%</i></span></div><div class="c" style="left:557.8px;top:478.3px;width:60.30px;height:33.50px;line-height:32.50px;padding-right:3.0px;background:rgb(99, 190, 123)"><span>318.05<i>%</i></span></div>
<div class="l" style="top:510.8px;height:18.40px"><span>VN-Index</span></div>
<div class="c" style="left:116.5px;top:510.8px;width:53.25px;height:19.40px;line-height:18.40px;padding-right:4.0px;background:rgb(251, 233, 236)"><span>-7.03<i>%</i></span></div><div class="c" style="left:168.75px;top:510.8px;width:54.00px;height:19.40px;line-height:18.40px;padding-right:4.0px;background:rgb(251, 223, 226)"><span>-10.91<i>%</i></span></div><div class="c" style="left:221.75px;top:510.8px;width:53.50px;height:19.40px;line-height:18.40px;padding-right:4.0px;background:rgb(251, 209, 212)"><span>-15.92<i>%</i></span></div><div class="c" style="left:274.25px;top:510.8px;width:53.75px;height:19.40px;line-height:18.40px;padding-right:4.0px;background:rgb(252, 246, 249)"><span>-2.00<i>%</i></span></div><div class="c" style="left:327px;top:510.8px;width:57.50px;height:19.40px;line-height:18.40px;padding-right:4.0px;background:rgb(252, 252, 255)"><span>0.02<i>%</i></span></div><div class="c" style="left:383.5px;top:510.8px;width:53.50px;height:19.40px;line-height:18.40px;padding-right:4.0px;background:rgb(250, 161, 163)"><span>-28.81<i>%</i></span></div><div class="c" style="left:436px;top:510.8px;width:61.60px;height:19.40px;line-height:18.40px;padding-right:4.0px;background:rgb(247, 250, 250)"><span>11.10<i>%</i></span></div><div class="c" style="left:496.6px;top:510.8px;width:62.20px;height:19.40px;line-height:18.40px;padding-right:4.0px;background:rgb(251, 251, 254)"><span>2.94<i>%</i></span></div><div class="c" style="left:557.8px;top:510.8px;width:60.30px;height:19.40px;line-height:18.40px;padding-right:3.0px;background:rgb(246, 250, 250)"><span>12.40<i>%</i></span></div>
<div class="l" style="top:529.2px;height:18.50px"><span>VN30</span></div>
<div class="c" style="left:116.5px;top:529.2px;width:53.25px;height:19.50px;line-height:18.50px;padding-right:4.0px;background:rgb(251, 233, 236)"><span>-6.96<i>%</i></span></div><div class="c" style="left:168.75px;top:529.2px;width:54.00px;height:19.50px;line-height:18.50px;padding-right:4.0px;background:rgb(251, 223, 226)"><span>-10.88<i>%</i></span></div><div class="c" style="left:221.75px;top:529.2px;width:53.50px;height:19.50px;line-height:18.50px;padding-right:4.0px;background:rgb(251, 210, 213)"><span>-15.55<i>%</i></span></div><div class="c" style="left:274.25px;top:529.2px;width:53.75px;height:19.50px;line-height:18.50px;padding-right:4.0px;background:rgb(252, 249, 252)"><span>-1.15<i>%</i></span></div><div class="c" style="left:327px;top:529.2px;width:57.50px;height:19.50px;line-height:18.50px;padding-right:4.0px;background:rgb(251, 252, 254)"><span>1.22<i>%</i></span></div><div class="c" style="left:383.5px;top:529.2px;width:53.50px;height:19.50px;line-height:18.50px;padding-right:4.0px;background:rgb(249, 150, 153)"><span>-32.17<i>%</i></span></div><div class="c" style="left:436px;top:529.2px;width:61.60px;height:19.50px;line-height:18.50px;padding-right:4.0px;background:rgb(244, 249, 248)"><span>16.45<i>%</i></span></div><div class="c" style="left:496.6px;top:529.2px;width:62.20px;height:19.50px;line-height:18.50px;padding-right:4.0px;background:rgb(246, 250, 250)"><span>12.65<i>%</i></span></div><div class="c" style="left:557.8px;top:529.2px;width:60.30px;height:19.50px;line-height:18.50px;padding-right:3.0px;background:rgb(245, 249, 249)"><span>15.29<i>%</i></span></div>
<div class="l" style="top:547.7px;height:17.60px"><span>VN-Midcap</span></div>
<div class="c" style="left:116.5px;top:547.7px;width:53.25px;height:17.60px;line-height:17.60px;padding-right:4.0px;background:rgb(251, 227, 229)"><span>-9.45<i>%</i></span></div><div class="c" style="left:168.75px;top:547.7px;width:54.00px;height:17.60px;line-height:17.60px;padding-right:4.0px;background:rgb(252, 244, 247)"><span>-2.98<i>%</i></span></div><div class="c" style="left:221.75px;top:547.7px;width:53.50px;height:17.60px;line-height:17.60px;padding-right:4.0px;background:rgb(252, 251, 254)"><span>-0.35<i>%</i></span></div><div class="c" style="left:274.25px;top:547.7px;width:53.75px;height:17.60px;line-height:17.60px;padding-right:4.0px;background:rgb(241, 247, 245)"><span>23.35<i>%</i></span></div><div class="c" style="left:327px;top:547.7px;width:57.50px;height:17.60px;line-height:17.60px;padding-right:4.0px;background:rgb(252, 252, 255)"><span>0.53<i>%</i></span></div><div class="c" style="left:383.5px;top:547.7px;width:53.50px;height:17.60px;line-height:17.60px;padding-right:4.0px;background:rgb(250, 166, 168)"><span>-27.36<i>%</i></span></div><div class="c" style="left:436px;top:547.7px;width:61.60px;height:17.60px;line-height:17.60px;padding-right:4.0px;background:rgb(209, 235, 218)"><span>88.56<i>%</i></span></div><div class="c" style="left:496.6px;top:547.7px;width:62.20px;height:17.60px;line-height:17.60px;padding-right:4.0px;background:rgb(252, 252, 255)"><span>0.30<i>%</i></span></div><div class="c" style="left:557.8px;top:547.7px;width:60.30px;height:17.60px;line-height:17.60px;padding-right:3.0px;background:rgb(251, 252, 254)"><span>2.16<i>%</i></span></div>
</body></html>
